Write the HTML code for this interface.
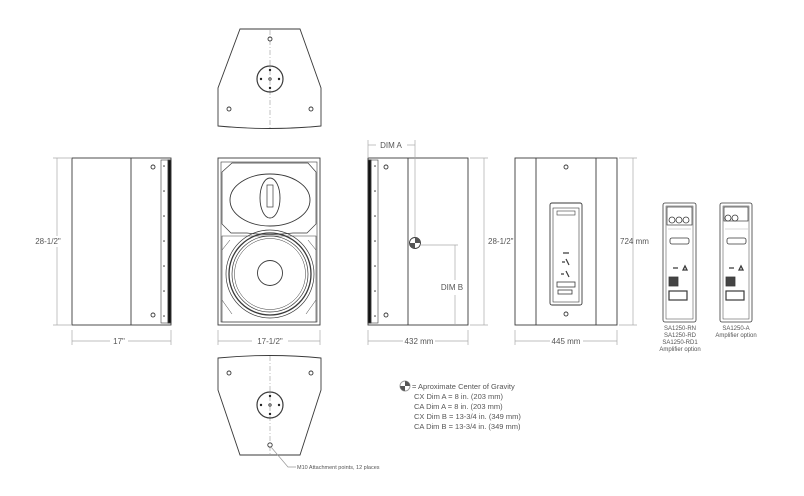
<!DOCTYPE html>
<html><head><meta charset="utf-8"><style>
html,body{margin:0;padding:0;background:#fff}
svg{display:block}
text{font-family:"Liberation Sans",sans-serif;fill:#555}
</style></head><body>
<svg width="804" height="496" viewBox="0 0 804 496" xmlns="http://www.w3.org/2000/svg">
<g fill="none" stroke="#3a3a3a" stroke-width="0.9">
<!-- top view -->
<path d="M240 29 L300 29 L321 88 L321 126 Q270 131 218 126 L218 88 Z"/>
<line x1="270" y1="30" x2="270" y2="128" stroke="#bbb" stroke-dasharray="5,2,1,2"/>
<circle cx="270" cy="79" r="13" stroke-width="1.2"/>
<circle cx="270" cy="39" r="2"/><circle cx="229" cy="109" r="2"/><circle cx="311" cy="109" r="2"/>
<g fill="#222" stroke="none"><circle cx="270" cy="70" r="1.2"/><circle cx="270" cy="88" r="1.2"/><circle cx="261" cy="79" r="1.2"/><circle cx="279" cy="79" r="1.2"/></g>
<circle cx="270" cy="79" r="1.2"/>

<!-- bottom view -->
<path d="M218 358 Q270 353 321 358 L321 390 L300 455 L240 455 L218 390 Z"/>
<line x1="270" y1="356" x2="270" y2="455" stroke="#bbb" stroke-dasharray="5,2,1,2"/>
<circle cx="270" cy="405" r="13" stroke-width="1.2"/>
<circle cx="229" cy="373" r="2"/><circle cx="311" cy="373" r="2"/><circle cx="270" cy="445" r="2.2"/>
<g fill="#222" stroke="none"><circle cx="270" cy="396" r="1.2"/><circle cx="270" cy="414" r="1.2"/><circle cx="261" cy="405" r="1.2"/><circle cx="279" cy="405" r="1.2"/></g>
<circle cx="270" cy="405" r="1.2"/>
<path d="M271 447 L288 467 L296 467" stroke="#999" stroke-width="0.7"/>

<!-- left side view -->
<rect x="72" y="158" width="99" height="167"/>
<line x1="131" y1="158" x2="131" y2="325"/>
<rect x="161" y="160" width="10" height="163" stroke-width="0.6"/>
<rect x="168" y="160" width="3" height="163" fill="#111"/>
<circle cx="153" cy="167" r="2"/><circle cx="153" cy="315" r="2"/>
<g fill="#333" stroke="none"><circle cx="164" cy="166" r=".8"/><circle cx="164" cy="191" r=".8"/><circle cx="164" cy="216" r=".8"/><circle cx="164" cy="241" r=".8"/><circle cx="164" cy="266" r=".8"/><circle cx="164" cy="291" r=".8"/><circle cx="164" cy="316" r=".8"/></g>

<!-- front view -->
<rect x="218" y="158" width="102" height="167"/>
<rect x="221" y="162" width="96" height="160" stroke-width="0.6"/>
<path d="M232 163 L308 163 L316 172 L316 224 L307 233 L293 233 Q270 236 247 233 L231 233 L222 224 L222 172 Z" stroke-width="0.7"/>
<ellipse cx="270" cy="200" rx="40" ry="26"/>
<ellipse cx="270" cy="198" rx="10" ry="20"/>
<rect x="267" y="185" width="6" height="22" stroke-width="0.7"/>
<path d="M222 236 L316 236 L316 322 L222 322 Z" stroke-width="0.6"/>
<circle cx="270" cy="274" r="44" stroke-width="0.7"/>
<circle cx="270" cy="274" r="41" stroke-width="1.3"/>
<circle cx="270" cy="274" r="38" stroke-width="0.7"/>
<circle cx="270" cy="274" r="35.5" stroke-width="0.5"/>
<circle cx="270" cy="273" r="12.5"/>
<path d="M222 300 L232 314 M316 300 L306 314 M222 250 L230 240 M316 250 L308 240" stroke-width="0.5"/>

<!-- right side view -->
<rect x="368" y="158" width="100" height="167"/>
<line x1="408" y1="158" x2="408" y2="325"/>
<rect x="368" y="160" width="10" height="163" stroke-width="0.6"/>
<rect x="368" y="160" width="3" height="163" fill="#111"/>
<circle cx="386" cy="167" r="2"/><circle cx="386" cy="315" r="2"/>
<g fill="#333" stroke="none"><circle cx="375" cy="166" r=".8"/><circle cx="375" cy="191" r=".8"/><circle cx="375" cy="216" r=".8"/><circle cx="375" cy="241" r=".8"/><circle cx="375" cy="266" r=".8"/><circle cx="375" cy="291" r=".8"/><circle cx="375" cy="316" r=".8"/></g>
<circle cx="415" cy="243" r="5.5"/>
<path d="M415 243 L415 237.5 A5.5 5.5 0 0 1 420.5 243 Z M415 243 L415 248.5 A5.5 5.5 0 0 1 409.5 243 Z" fill="#555" stroke="none"/>
<g stroke="#aaa" stroke-width="0.7">
<line x1="415" y1="140" x2="415" y2="237"/>
<line x1="368" y1="140" x2="368" y2="157"/>
<line x1="368" y1="145" x2="376" y2="145"/><line x1="407" y1="145" x2="415" y2="145"/>
<line x1="420" y1="245" x2="458" y2="245"/>
<line x1="455" y1="245" x2="455" y2="280"/><line x1="455" y1="295" x2="455" y2="325"/>
</g>

<!-- back view -->
<rect x="515" y="158" width="102" height="167"/>
<line x1="536" y1="158" x2="536" y2="325"/><line x1="596" y1="158" x2="596" y2="325"/>
<circle cx="566" cy="167" r="2"/><circle cx="566" cy="314" r="2"/>
<rect x="550" y="203" width="32" height="102" rx="2"/>
<rect x="553" y="208" width="26" height="94" stroke-width="0.6"/>
<rect x="557" y="211" width="18" height="4" stroke-width="0.6"/>
<path d="M563 253 h6 M562 262 h3 M566 259 l3 6 M561 274 h3 M566 271 l3 6" stroke-width="1.2"/>
<rect x="557" y="282" width="18" height="5" stroke-width="0.8"/>
<rect x="558" y="290" width="14" height="4" stroke-width="0.8"/>

<!-- amp panels -->
<g stroke-width="0.8">
<rect x="663" y="203" width="33" height="119" rx="2"/>
<rect x="666" y="206" width="27" height="113" stroke-width="0.5"/>
<rect x="667" y="207" width="25" height="18" stroke-width="0.7"/>
<circle cx="672" cy="220" r="3"/><circle cx="679" cy="220" r="3"/><circle cx="686" cy="220" r="3"/>
<line x1="668" y1="229" x2="691" y2="229" stroke="#ccc"/>
<rect x="670" y="238" width="19" height="6" rx="2"/>
<path d="M673 268 h5 M683 270 l2 -4 l2 4 Z" stroke-width="1.3"/>
<rect x="669" y="277" width="9" height="9" fill="#444"/>
<rect x="669" y="291" width="18" height="9" stroke-width="1.2"/>
<rect x="720" y="203" width="32" height="119" rx="2"/>
<rect x="723" y="206" width="26" height="113" stroke-width="0.5"/>
<rect x="724" y="207" width="24" height="14" stroke-width="0.7"/>
<circle cx="728" cy="218" r="3"/><circle cx="735" cy="218" r="3"/>
<line x1="725" y1="229" x2="748" y2="229" stroke="#ccc"/>
<rect x="727" y="238" width="19" height="6" rx="2"/>
<path d="M729 268 h5 M739 270 l2 -4 l2 4 Z" stroke-width="1.3"/>
<rect x="726" y="277" width="9" height="9" fill="#444"/>
<rect x="726" y="291" width="18" height="9" stroke-width="1.2"/>
</g>

<!-- dimension lines -->
<g stroke="#aaa" stroke-width="0.7">
<line x1="57" y1="158" x2="57" y2="236"/><line x1="57" y1="247" x2="57" y2="325"/>
<line x1="53" y1="158" x2="72" y2="158"/><line x1="53" y1="325" x2="72" y2="325"/>
<line x1="72" y1="330" x2="72" y2="345"/><line x1="171" y1="330" x2="171" y2="345"/>
<line x1="72" y1="341" x2="110" y2="341"/><line x1="128" y1="341" x2="171" y2="341"/>
<line x1="218" y1="330" x2="218" y2="345"/><line x1="320" y1="330" x2="320" y2="345"/>
<line x1="218" y1="341" x2="252" y2="341"/><line x1="288" y1="341" x2="320" y2="341"/>
<line x1="368" y1="330" x2="368" y2="345"/><line x1="468" y1="330" x2="468" y2="345"/>
<line x1="368" y1="341" x2="403" y2="341"/><line x1="435" y1="341" x2="468" y2="341"/>
<line x1="484" y1="158" x2="484" y2="325"/>
<line x1="470" y1="158" x2="488" y2="158"/><line x1="470" y1="325" x2="488" y2="325"/>
<line x1="515" y1="330" x2="515" y2="345"/><line x1="617" y1="330" x2="617" y2="345"/>
<line x1="515" y1="341" x2="550" y2="341"/><line x1="583" y1="341" x2="617" y2="341"/>
<line x1="633" y1="158" x2="633" y2="325"/>
<line x1="619" y1="158" x2="637" y2="158"/><line x1="619" y1="325" x2="637" y2="325"/>
</g>

<!-- legend icon -->
<circle cx="405" cy="386" r="5" stroke="#999"/>
<path d="M405 386 L405 381 A5 5 0 0 1 410 386 Z M405 386 L405 391 A5 5 0 0 1 400 386 Z" fill="#555" stroke="none"/>
</g>

<g font-size="8">
<text x="48" y="244" text-anchor="middle" fill="#fff" stroke="#fff" stroke-width="3">28-1/2"</text>
<text x="48" y="244" text-anchor="middle">28-1/2"</text>
<text x="119" y="344" text-anchor="middle">17"</text>
<text x="270" y="344" text-anchor="middle">17-1/2"</text>
<text x="419" y="344" text-anchor="middle">432 mm</text>
<text x="566" y="344" text-anchor="middle">445 mm</text>
<text x="391" y="148" text-anchor="middle">DIM A</text>
<text x="452" y="290" text-anchor="middle">DIM B</text>
<text x="488" y="244">28-1/2"</text>
<text x="620" y="244">724 mm</text>
</g>
<g font-size="6" text-anchor="middle">
<text x="680" y="330">SA1250-RN</text>
<text x="680" y="337">SA1250-RD</text>
<text x="680" y="344">SA1250-RD1</text>
<text x="680" y="351">Amplifier option</text>
<text x="736" y="330">SA1250-A</text>
<text x="736" y="337">Amplifier option</text>
</g>
<g font-size="7.5" fill="#333">
<text x="412" y="389">= Aproximate Center of Gravity</text>
<text x="414" y="399">CX Dim A = 8 in. (203 mm)</text>
<text x="414" y="409">CA Dim A = 8 in. (203 mm)</text>
<text x="414" y="419">CX Dim B = 13-3/4 in. (349 mm)</text>
<text x="414" y="429">CA Dim B = 13-3/4 in. (349 mm)</text>
</g>
<text x="297" y="469" font-size="5.5">M10 Attachment points, 12 places</text>
</svg>
</body></html>
